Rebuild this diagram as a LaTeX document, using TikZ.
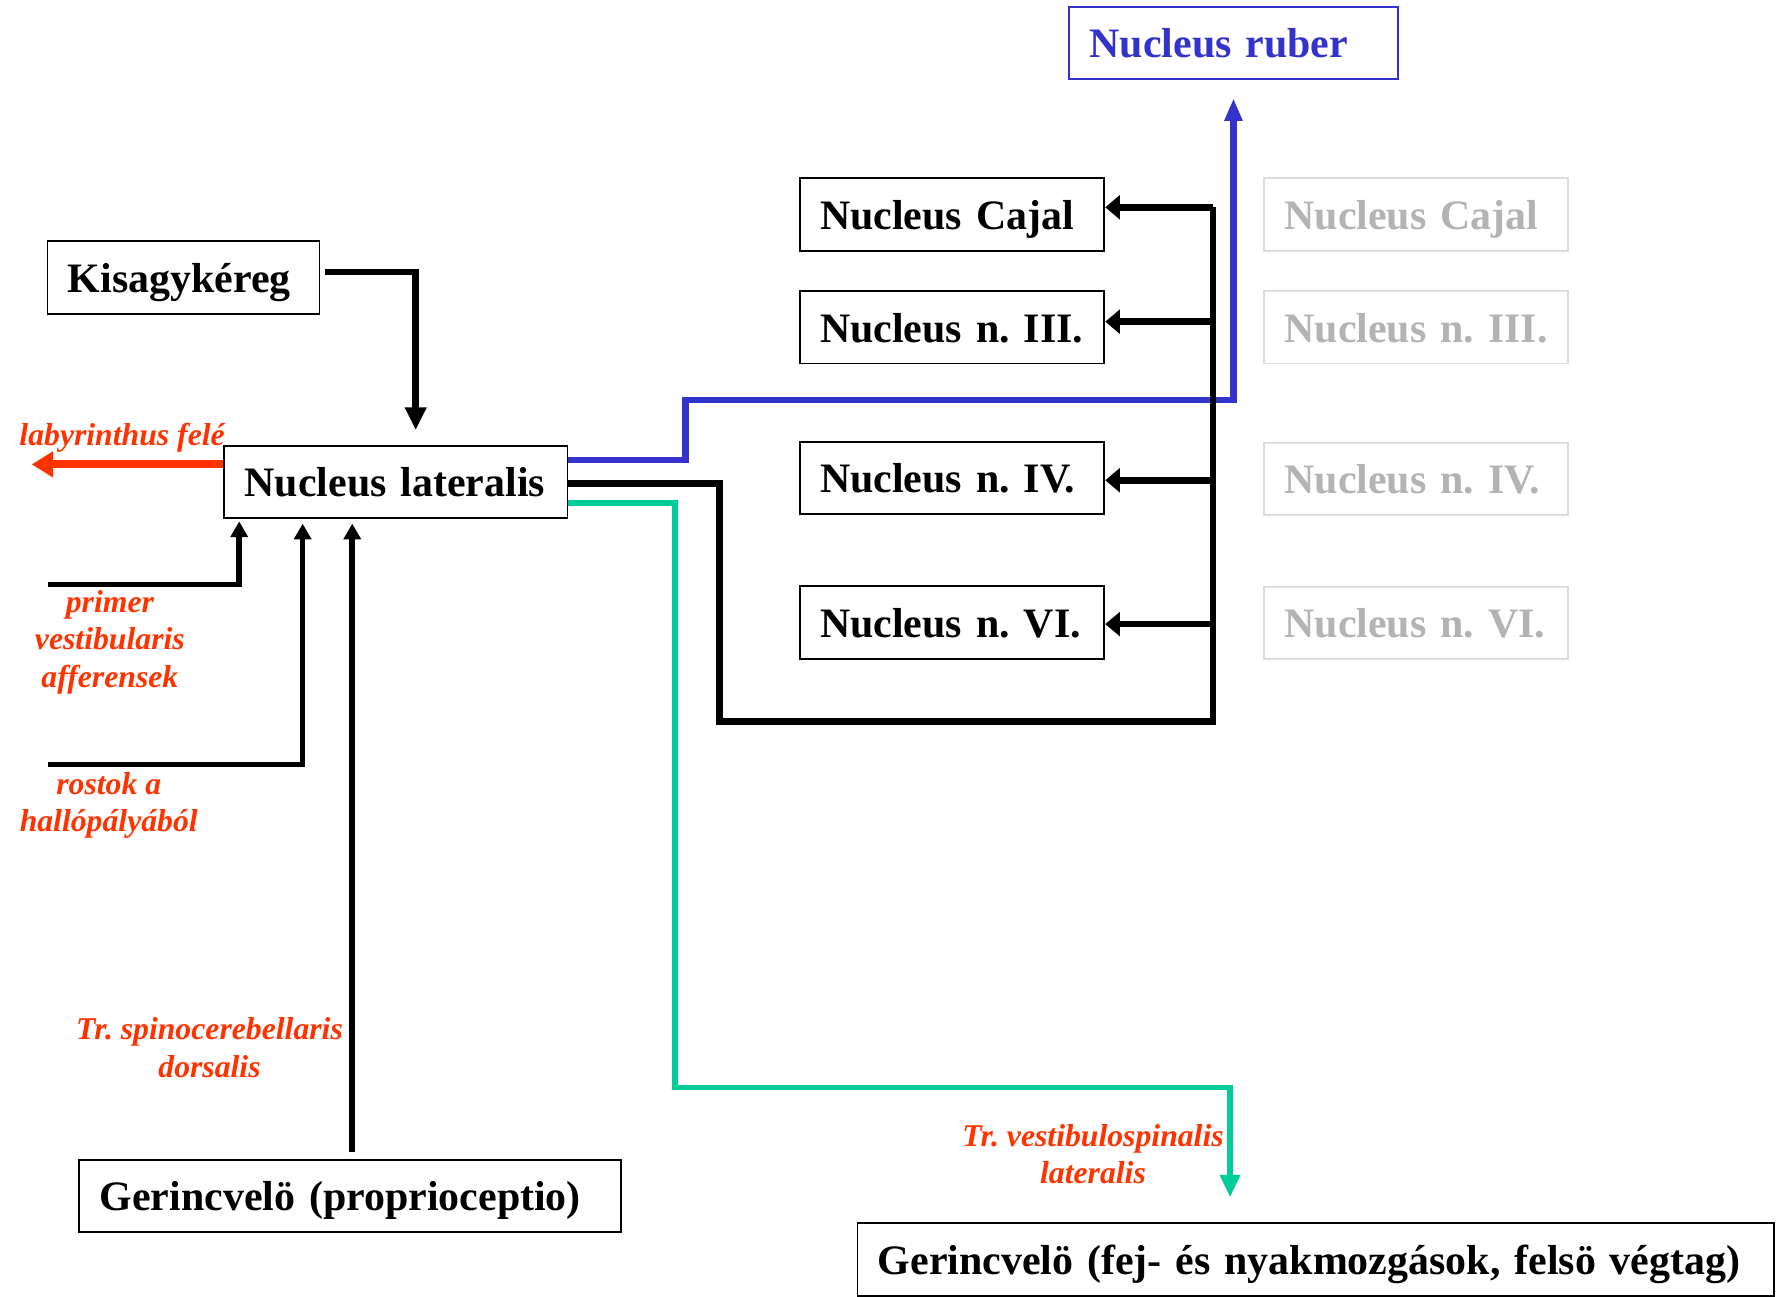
\documentclass[tikz,border=0pt]{standalone}
\usepackage{fontspec}
\setmainfont{Liberation Serif}
\usetikzlibrary{arrows.meta}
\definecolor{lblred}{HTML}{FF3300}
\definecolor{rubblue}{HTML}{3333CC}
\definecolor{vsgreen}{HTML}{00CC99}
\definecolor{ghosttext}{HTML}{B3B3B3}
\definecolor{ghostline}{HTML}{DDDDDD}
\newcommand{\boxfont}{\fontsize{37pt}{40pt}\selectfont\bfseries\frenchspacing}
\newcommand{\lblfont}{\fontsize{28pt}{33pt}\selectfont\bfseries\itshape\frenchspacing}
\tikzset{
  box/.style={draw=black, line width=1.6pt, fill=white, minimum height=64pt,
    inner xsep=18pt, inner ysep=0pt, text height=30pt, text depth=4pt,
    align=left, font=\boxfont, anchor=center},
  ghost/.style={box, draw=ghostline, text=ghosttext},
  lbl/.style={text=lblred, font=\lblfont, align=center, inner sep=0pt},
  thk/.style={line width=5.8pt, line join=miter},
  thn/.style={line width=5pt, line join=miter},
  tipA/.style={-{Triangle[length=20pt,width=18pt]}},
  tipB/.style={-{Triangle[length=13pt,width=21pt]}},
  tipC/.style={-{Triangle[length=14pt,width=15pt]}},
}
\begin{document}
\begin{tikzpicture}[x=1pt,y=-1pt]
\useasboundingbox (0,0) rectangle (1568,1145);
% boxes
\node[box, text width=204pt] (kis) at (162,245) {\mbox{Kisagykéreg}};
\node[box, text width=267pt] (lat) at (349.5,425.5) {\mbox{Nucleus lateralis}};
\node[box, draw=rubblue, text=rubblue, text width=254pt] (ruber) at (1089,38) {\mbox{Nucleus ruber}};
\node[box, text width=233pt] (cajal) at (840.5,189.5) {\mbox{Nucleus Cajal}};
\node[box, text width=233pt] (n3) at (840.5,289) {\mbox{Nucleus n. III.}};
\node[box, text width=233pt] (n4) at (840.5,422) {\mbox{Nucleus n. IV.}};
\node[box, text width=233pt] (n6) at (840.5,549.5) {\mbox{Nucleus n. VI.}};
\node[ghost, text width=232pt] (gcajal) at (1250,189.5) {\mbox{Nucleus Cajal}};
\node[ghost, text width=232pt] (gn3) at (1250,289) {\mbox{Nucleus n. III.}};
\node[ghost, text width=232pt] (gn4) at (1250,423) {\mbox{Nucleus n. IV.}};
\node[ghost, text width=232pt] (gn6) at (1250,550) {\mbox{Nucleus n. VI.}};
\node[box, text width=442pt] (ger1) at (309,1056) {\mbox{Gerincvelö (proprioceptio)}};
\node[box, text width=773pt] (ger2) at (1161.5,1112) {\mbox{Gerincvelö (fej- és nyakmozgások, felsö végtag)}};
% labels
\node[lbl, anchor=base west] (llab) at (17,393) {labyrinthus felé};
\node[lbl] (lprim) at (97,567) {primer\\vestibularis\\afferensek};
\node[lbl] (lrost) at (96,711) {rostok a\\hallópályából};
\node[lbl] (lspino) at (185,925) {Tr. spinocerebellaris\\dorsalis};
\node[lbl] (lvest) at (965,1019) {Tr. vestibulospinalis\\lateralis};
% coordinates
\coordinate (kc) at (367,240);
\coordinate (lab) at (28,410);
\coordinate (p0) at (42,516);
\coordinate (r0) at (42,675);
\coordinate (b1) at (605,353);
\coordinate (c1) at (635,637);
\coordinate (bx) at (1071,637);
\coordinate (btop) at (1071,183);
\coordinate (b3) at (1071,284);
\coordinate (b4) at (1071,424);
\coordinate (b6) at (1071,551);
\coordinate (g1) at (596,960);
\coordinate (g2) at (1086,960);
% connectors
\draw[thk, tipA, shorten >=13pt] ([xshift=4pt]kis.east |- kc) -- (kc) -- (kc |- lat.north);
\draw[line width=7pt, lblred, -{Triangle[length=19pt,width=22pt]}] ([yshift=15.5pt]lat.west) -- (lab);
\draw[thn, tipC, shorten >=2pt] (p0) -| ([xshift=14pt]lat.south west);
\draw[thn, tipC, shorten >=4pt] (r0) -| ([xshift=70pt]lat.south west);
\draw[thn, tipC, shorten >=4pt] ([xshift=2pt,yshift=6pt]ger1.north) -- ([xshift=2pt]ger1.north |- lat.south);
\draw[thk, rubblue, -{Triangle[length=20pt,width=15pt]}, shorten >=16pt] ([yshift=19.5pt]lat.east) -| (b1) -| (ruber.south);
\draw[thk] ([yshift=-1.5pt]lat.east) -| (c1) -- (bx) -- (btop);
\draw[thk, tipB] (btop) -- (btop -| cajal.east);
\draw[thk, tipB] (b3) -- (b3 -| n3.east);
\draw[thk, tipB] (b4) -- (b4 -| n4.east);
\draw[thk, tipB] (b6) -- (b6 -| n6.east);
\draw[thn, vsgreen, -{Triangle[length=20pt,width=17pt]}, shorten >=22pt] ([yshift=-18.5pt]lat.east) -| (g1) -- (g2) -- (g2 |- ger2.north);
\end{tikzpicture}
\end{document}
